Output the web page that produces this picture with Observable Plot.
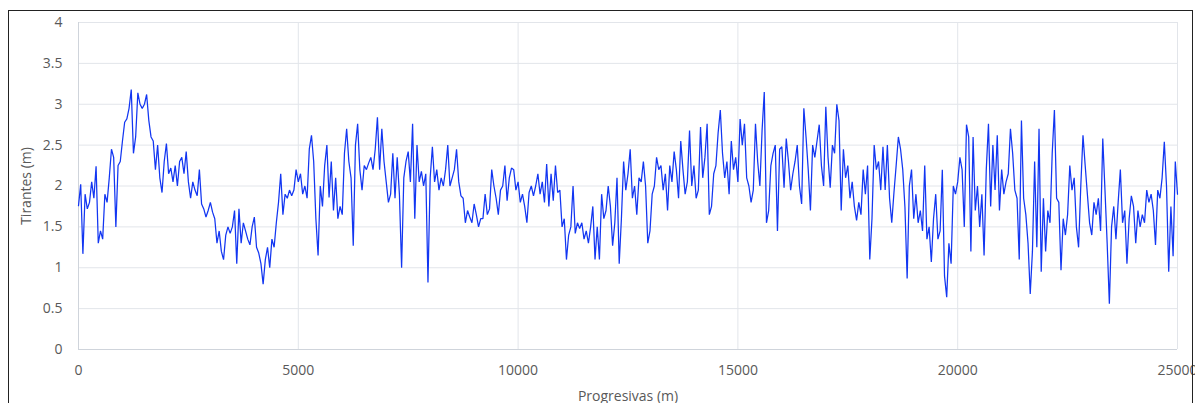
<!DOCTYPE html>
<html><head><meta charset="utf-8">
<script src="https://cdn.jsdelivr.net/npm/d3@7"></script>
<script src="https://cdn.jsdelivr.net/npm/@observablehq/plot@0.6"></script>
<style>
html,body{margin:0;padding:0;background:#fff;overflow:hidden}
#wrap{position:relative;width:1195px;height:403px}
#wrap svg{position:absolute;left:0;top:0}
#frame{position:absolute;left:8px;top:10px;width:1185px;height:400px;border:1px solid #222;border-bottom:none;box-sizing:border-box;pointer-events:none}
</style></head>
<body><div id="wrap"><div id="frame"></div></div>
<script>
// Progresivas (m): 0 .. 25000, paso 50 m
const progresivaInicio = 0;
const pasoProgresiva = 50;
// Tirantes (m)
const tirantes = [
1.76, 2.02, 1.17, 1.9, 1.72, 1.8, 2.05, 1.85, 2.24, 1.3,
1.45, 1.35, 1.9, 1.8, 2.1, 2.45, 2.35, 1.5, 2.25, 2.3,
2.55, 2.78, 2.82, 2.95, 3.18, 2.4, 2.6, 3.14, 3.0, 2.95,
3.0, 3.12, 2.8, 2.6, 2.55, 2.2, 2.5, 2.1, 1.92, 2.3,
2.52, 2.15, 2.22, 2.05, 2.25, 2.0, 2.3,
2.35, 2.15, 2.42, 2.05, 1.85, 2.05, 1.95, 1.88, 2.2, 1.78,
1.72, 1.62, 1.7, 1.8, 1.68, 1.6, 1.3, 1.45, 1.2, 1.1,
1.4, 1.5, 1.42, 1.5, 1.7, 1.05, 1.72, 1.3, 1.55, 1.45,
1.35, 1.28, 1.5, 1.62, 1.25, 1.18, 1.05, 0.8, 1.1, 1.25,
1.0, 1.35, 1.25, 1.55, 1.8,
2.15, 1.65, 1.9, 1.85, 1.95, 1.88, 1.95, 2.2, 2.05, 2.15,
1.9, 2.0, 1.85, 2.45, 2.62, 2.3, 1.6, 1.15, 2.0, 1.75,
2.25, 2.5, 1.86, 2.3, 1.7, 2.1, 1.6, 1.75, 1.65, 2.4,
2.7, 2.3, 2.1, 1.27, 2.5, 2.76, 2.2, 1.95, 2.25, 2.2,
2.28, 2.35, 2.2, 2.45, 2.84, 2.2,
2.7, 2.3, 2.05, 1.8, 1.9, 2.4, 1.85, 2.35, 1.9, 1.0,
2.1, 2.3, 2.42, 2.05, 2.76, 1.6, 2.5, 2.05, 2.18, 2.0,
2.15, 0.82, 2.1, 2.48, 2.05, 2.2, 1.95, 2.1, 2.0, 2.2,
2.5, 2.0, 2.1, 2.2, 2.45, 2.05, 1.88, 1.85, 1.55, 1.7,
1.62, 1.55, 1.78, 1.65, 1.5, 1.6,
1.6, 1.9, 1.65, 1.72, 2.2, 2.0, 1.85, 1.65, 1.95, 2.0,
2.25, 1.82, 2.1, 2.22, 2.2, 1.95, 2.05, 1.8, 1.9, 1.75,
1.55, 1.92, 2.0, 1.88, 2.0, 2.15, 1.9, 2.05, 1.8, 2.27,
1.75, 2.15, 1.82, 2.25, 1.92, 1.95, 1.5, 1.6, 1.1, 1.4,
1.5, 2.0, 1.42, 1.55, 1.48,
1.55, 1.35, 1.45, 1.3, 1.5, 1.75, 1.1, 1.5, 1.1, 1.9,
1.6, 1.7, 2.0, 1.75, 1.27, 1.55, 2.1, 1.05, 1.6, 2.3,
1.95, 2.15, 2.45, 1.85, 2.0, 1.65, 2.1, 2.05, 2.3, 2.0,
1.3, 1.45, 1.9, 2.0, 2.35, 2.2, 2.25, 1.95, 2.15, 1.7,
2.25, 2.05, 2.42, 2.2, 1.85, 2.55,
2.2, 1.9, 2.05, 2.68, 2.0, 2.25, 1.85, 1.95, 2.72, 2.1,
2.35, 2.76, 1.65, 1.75, 2.15, 2.25, 2.65, 2.93, 2.4, 2.1,
2.3, 1.9, 2.55, 2.2, 2.35, 2.05, 2.82, 2.5, 2.76, 2.1,
2.0, 1.8, 1.95, 2.76, 2.3, 2.0, 2.68, 3.15, 1.55, 1.7,
2.25, 2.4, 2.5, 1.45, 2.45,
2.48, 1.98, 2.58, 2.3, 1.95, 2.15, 2.3, 2.5, 2.0, 1.78,
2.95, 2.6, 2.2, 1.7, 2.5, 2.35, 2.55, 2.75, 2.25, 2.0,
2.97, 2.35, 1.98, 2.5, 2.4, 3.0, 2.8, 1.7, 2.45, 2.1,
2.25, 1.85, 2.05, 1.75, 1.58, 1.8, 1.65, 2.2, 1.9, 2.25,
1.1, 1.6, 2.5, 2.2, 2.3, 1.95,
2.48, 1.95, 2.5, 1.85, 1.55, 1.92, 2.25, 2.6, 2.45, 2.2,
1.74, 0.87, 2.0, 2.2, 1.6, 1.9, 1.55, 1.7, 1.45, 2.25,
1.35, 1.5, 1.07, 1.6, 1.9, 1.35, 1.45, 2.2, 0.9, 0.64,
1.3, 1.05, 2.0, 1.9, 2.05, 2.35, 2.2, 1.5, 2.75, 2.6,
1.2, 2.6, 1.7, 2.0, 1.5,
1.9, 1.15, 2.2, 2.76, 1.75, 2.5, 1.95, 2.62, 1.7, 2.2,
1.9, 2.05, 2.15, 2.7, 2.4, 1.95, 1.85, 1.1, 2.8, 1.85,
1.65, 1.3, 0.68, 1.2, 2.3, 1.25, 2.7, 0.95, 1.85, 1.2,
1.7, 1.55, 2.4, 2.93, 1.85, 1.8, 0.97, 1.6, 1.4, 1.65,
2.25, 1.95, 2.1, 1.5, 1.25, 2.0,
2.62, 2.25, 1.9, 1.55, 1.4, 1.8, 1.65, 1.85, 1.45, 2.58,
1.95, 1.3, 0.56, 1.5, 1.75, 1.35, 1.8, 2.2, 1.55, 1.7,
1.05, 1.6, 1.88, 1.75, 1.3, 1.7, 1.5, 1.65, 1.55, 1.95,
1.8, 1.9, 1.7, 1.28, 1.95, 1.85, 2.1, 2.54, 2.0, 0.95,
1.75, 1.14, 2.3, 1.9
];
const xTicks = [0, 5000, 10000, 15000, 20000, 25000];
const yTicks = [0, 0.5, 1, 1.5, 2, 2.5, 3, 3.5, 4];
const xLabel = "Progresivas (m)";
const yLabel = "Tirantes (m)";

const datos = tirantes.map((t, i) => ({progresiva: progresivaInicio + i * pasoProgresiva, tirante: t}));

const chart = Plot.plot({
  width: 1195, height: 403,
  marginLeft: 78, marginRight: 18, marginTop: 22, marginBottom: 54,
  style: {fontFamily: "'Open Sans', sans-serif", fontSize: "14px", color: "#595959", background: "transparent", overflow: "visible"},
  x: {domain: [0, 25000]},
  y: {domain: [0, 4]},
  marks: [
    Plot.gridX(xTicks, {stroke: "#e2e5ea", strokeOpacity: 1}),
    Plot.gridY(yTicks, {stroke: "#e2e5ea", strokeOpacity: 1}),
    Plot.ruleX([0], {stroke: "#cfd4db"}),
    Plot.ruleY([0], {stroke: "#cfd4db"}),
    Plot.axisY(yTicks, {tickSize: 0, tickPadding: 16, tickFormat: d => String(d), label: yLabel, labelAnchor: "center", labelArrow: "none", labelOffset: 57, fill: "#595959"}),
    Plot.axisX(xTicks, {tickSize: 0, tickPadding: 16, tickFormat: d => String(d), label: xLabel, labelAnchor: "center", labelArrow: "none", labelOffset: 51, fill: "#595959"}),
    Plot.line(datos, {x: "progresiva", y: "tirante", stroke: "#1236f2", strokeWidth: 1.25, strokeLinejoin: "miter"})
  ]
});
document.getElementById("wrap").prepend(chart);
</script>
</body></html>
